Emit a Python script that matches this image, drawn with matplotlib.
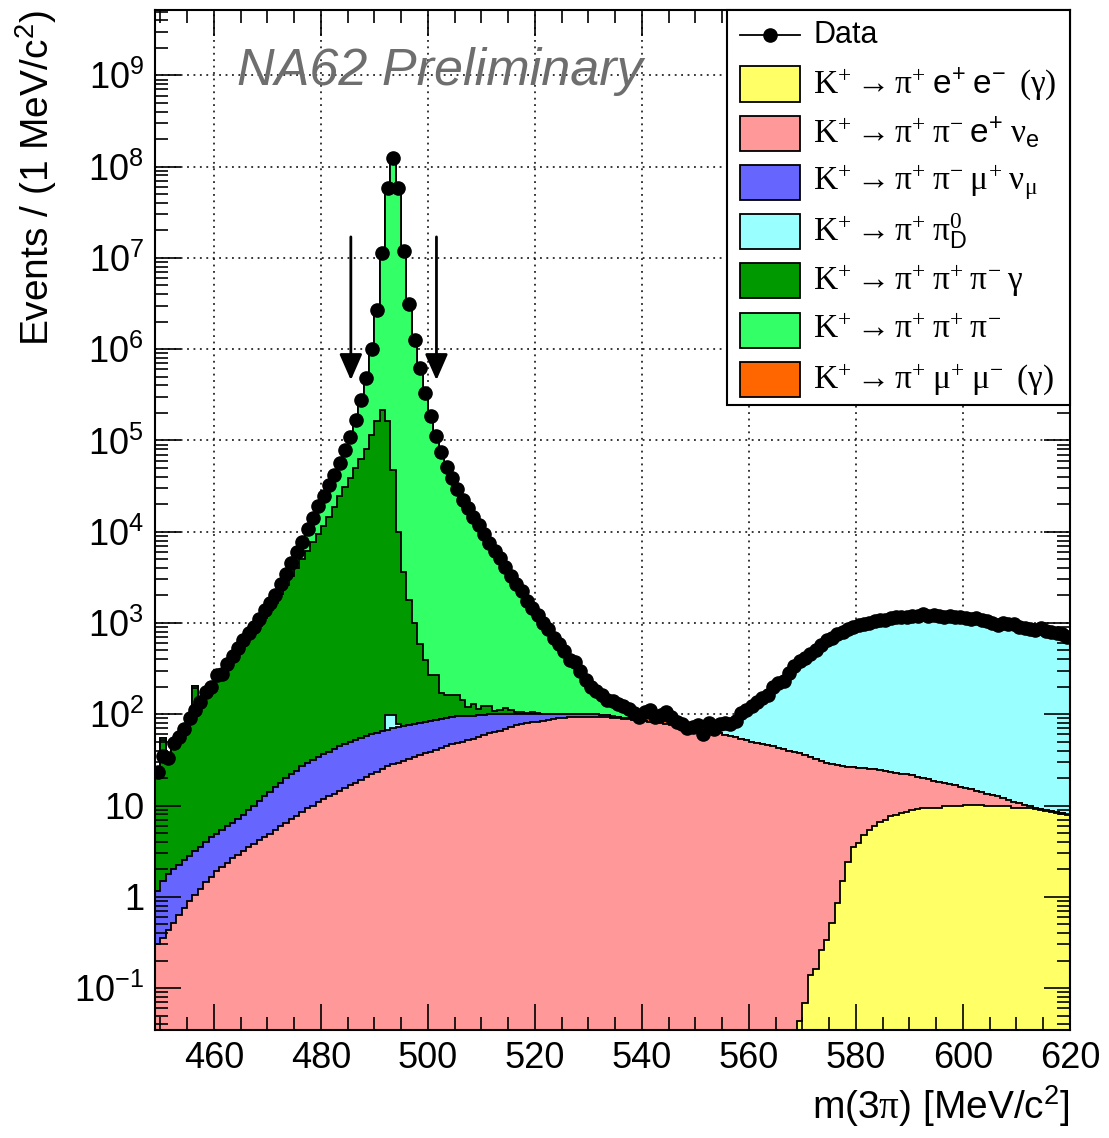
import numpy as np
import matplotlib
matplotlib.use('Agg')
import matplotlib.pyplot as plt
from matplotlib.ticker import FixedLocator, MultipleLocator, LogLocator, FuncFormatter, NullFormatter
from matplotlib.patches import Rectangle
from matplotlib.lines import Line2D

plt.rcParams['font.family'] = 'Liberation Sans'
plt.rcParams['mathtext.fontset'] = 'custom'
plt.rcParams['mathtext.rm'] = 'Liberation Serif'
plt.rcParams['mathtext.it'] = 'Liberation Serif:italic'
plt.rcParams['mathtext.bf'] = 'Liberation Serif:bold'
plt.rcParams['mathtext.sf'] = 'Liberation Sans'

# 1 MeV bins from 449 to 620 MeV/c^2
edges = np.arange(449, 621)

# events per bin (bins 449 ... 619)
data = [
    23, 35, 33, 48, 56, 69, 91, 110, 135, 174,
    200, 269, 275, 355, 437, 537, 646, 776, 912, 1096,
    1380, 1660, 2042, 2692, 3467, 4571, 6026, 7762, 10715, 14125,
    19055, 24547, 32359, 41687, 56234, 77625, 109648, 165959, 275423, 478630,
    1.0e6, 2.69e6, 1.12e7, 5.89e7, 1.23e8, 5.89e7, 1.20e7, 3.09e6, 1.26e6, 6.17e5,
    3.31e5, 1.86e5, 1.12e5, 74131, 51286, 38905, 29512, 22387, 18197, 14454,
    11749, 9550, 7586, 6166, 5129, 4074, 3311, 2692, 2239, 1738,
    1445, 1230, 1000, 851, 676, 589, 490, 389, 372, 295,
    240, 200, 178, 162, 145, 138, 129, 123, 115, 102,
    93, 105, 112, 93, 98, 107, 93, 83, 78, 71,
    72, 76, 60, 81, 69, 79, 81, 78, 85, 102,
    112, 123, 135, 151, 162, 200, 219, 234, 282, 339,
    380, 417, 457, 501, 575, 646, 692, 759, 794, 851,
    912, 955, 977, 1000, 1047, 1072, 1072, 1122, 1148, 1148,
    1175, 1202, 1202, 1259, 1202, 1230, 1202, 1175, 1202, 1175,
    1148, 1122, 1096, 1122, 1072, 1047, 1000, 955, 1000, 977,
    977, 912, 891, 851, 832, 871, 813, 794, 776, 759,
    708,
]

pieeg = [0] * 120 + [
    0.043, 0.069, 0.14, 0.16, 0.26, 0.34, 0.51, 0.85, 1.5, 2.4,
    3.5, 3.9, 4.8, 5.4, 5.9, 6.6, 6.9, 7.6, 7.9, 8.3,
    8.5, 8.9, 9.1, 9.3, 9.3, 9.3, 9.5, 9.8, 9.8, 10.0,
    10.0, 10.2, 10.2, 10.2, 10.2, 10.0, 10.0, 9.8, 9.8, 9.8,
    9.5, 9.5, 9.3, 9.3, 9.1, 8.9, 8.7, 8.5, 8.3, 8.1,
    7.8,
]

pipienu = [
    0.30, 0.35, 0.43, 0.52, 0.63, 0.76, 0.89, 1.05, 1.23, 1.45,
    1.66, 1.91, 2.14, 2.34, 2.63, 2.88, 3.16, 3.47, 3.80, 4.17,
    4.57, 4.90, 5.37, 5.89, 6.46, 7.08, 7.76, 8.51, 9.33, 10.0,
    11.0, 11.7, 12.6, 13.5, 14.5, 15.5, 16.6, 17.8, 19.1, 20.4,
    21.9, 23.4, 25.1, 26.9, 28.2, 29.5, 30.9, 32.4, 33.9, 35.5,
    37.2, 38.9, 40.7, 42.7, 44.7, 46.8, 49.0, 50.1, 52.5, 53.7,
    56.2, 58.9, 61.7, 63.1, 66.1, 69.2, 72.4, 75.9, 77.6, 79.4,
    81.3, 83.2, 85.1, 87.1, 89.1, 91.2, 91.2, 93.3, 93.3, 93.3,
    93.3, 93.3, 93.3, 93.3, 93.3, 91.2, 91.2, 89.1, 89.1, 87.1,
    85.1, 85.1, 83.2, 81.3, 79.4, 77.6, 75.9, 74.1, 72.4, 70.8,
    70.8, 69.2, 67.6, 66.1, 63.1, 61.7, 58.9, 57.5, 56.2, 53.7,
    52.5, 50.1, 49.0, 46.8, 45.7, 44.7, 42.7, 41.7, 39.8, 38.9,
    37.2, 35.4, 33.8, 32.2, 30.6, 29.2, 28.3, 26.7, 25.4, 23.9,
    22.8, 21.8, 20.9, 19.7, 19.2, 17.9, 17.1, 15.8, 15.0, 14.1,
    13.4, 12.5, 11.3, 10.7, 10.2, 9.3, 8.7, 8.0, 7.2, 6.6,
    5.8, 5.3, 4.9, 4.3, 3.9, 3.5, 3.2, 2.8, 2.2, 1.7,
    1.5, 1.2, 0.9, 0.5, 0.4, 0.2, 0.2, 0.2, 0.1, 0.1,
    0.1,
]

pipimunu = [
    0.87, 1.13, 1.35, 1.48, 1.61, 1.75, 1.93, 2.11, 2.32, 2.53,
    2.81, 2.99, 3.23, 3.55, 3.83, 4.20, 4.78, 5.44, 6.2, 7.0,
    8.0, 9.2, 10.4, 11.9, 13.5, 14.8, 16.2, 18.4, 20.2, 21.6,
    22.9, 24.6, 26.3, 28.2, 30.0, 31.8, 33.5, 35.0, 36.5, 37.8,
    38.8, 39.6, 40.3, 41.0, 41.6, 42.3, 43.0, 43.6, 44.3, 45.0,
    45.6, 46.0, 46.3, 46.4, 46.4, 46.2, 45.6, 44.8, 43.8, 42.7,
    41.4, 40.0, 38.2, 36.4, 33.9, 30.8, 27.6, 24.1, 22.4, 20.6,
    18.7, 16.8, 14.9, 12.9, 10.9, 9.5, 8.8, 7.5, 7.0, 6.8,
    6.7, 6.5, 6.2, 5.5, 4.4, 3.2, 2.0, 1.0, 0.5, 0.2,
] + [0] * 81

pipi0d = [0] * 43 + [30, 29, 7] + [0] * 50 + [
    0.5, 1, 1.5, 2, 3, 4, 5, 7, 9, 12,
    15, 22, 31, 42, 56, 73, 86, 101, 120, 146,
    176, 209, 248, 292, 343, 391, 434, 481, 544, 601,
    663, 713, 767, 822, 862, 903, 947, 970, 1016, 1041,
    1065, 1091, 1118, 1118, 1145, 1145, 1172, 1173, 1173, 1174,
    1175, 1176, 1150, 1150, 1150, 1123, 1097, 1072, 1048, 1024,
    1000, 978, 955, 933, 912, 891, 871, 851, 832, 813,
    794, 775, 758, 741, 706,
]

pipipig = [
    19, 51, 30, 40, 48, 59, 77, 192, 116, 151,
    178, 235, 246, 310, 383, 461, 554, 667, 784, 922,
    1135, 1366, 1644, 2071, 2610, 3214, 3957, 4985, 6136, 7730,
    9516, 11446, 14415, 18579, 24503, 30855, 38854, 50065, 63040, 81224,
    114755, 162118, 213731, 162083, 47765, 9921, 3557, 1702, 921, 508,
    315, 184, 182, 81, 71, 69, 69, 49, 25, 34,
    17, 23, 23, 10, 10, 17, 12, 5, 7, 2,
    5, 2, 1, 1, 1, 1, 1, 1, 1, 1,
    1, 1, 0.5, 0.5, 0.5, 0.5, 0.5, 0.3, 0.3, 0.3,
] + [0] * 81

pipipi = [
    2, 2, 1.5, 6, 6, 7.5, 12, 8, 15, 19,
    18, 29, 24, 39, 48, 69, 84, 100, 118, 163,
    232, 280, 382, 603, 837, 1335, 2045, 2750, 4549, 6363,
    9505, 13065, 17905, 23066, 31687, 46722, 70743, 115840, 212327, 397347,
    8.85e5, 2.53e6, 1.10e7, 5.87e7, 1.23e8, 5.89e7, 1.20e7, 3.09e6, 1.26e6, 6.17e5,
    3.31e5, 1.86e5, 1.12e5, 7.40e4, 5.11e4, 3.87e4, 2.94e4, 2.22e4, 1.81e4, 1.43e4,
    11630, 9427, 7463, 6056, 5019, 3957, 3199, 2587, 2132, 1636,
    1340, 1128, 898, 750, 575, 488, 389, 288, 238, 194,
    139, 98, 72, 53, 41, 33, 26, 18, 10, 4,
    1,
] + [0] * 80

pimumu = [0] * 79 + [
    1, 2, 3, 4, 5, 5, 6, 6, 7, 7,
    7, 7, 7, 7, 7, 6, 6, 6, 5, 5,
    4, 4, 3, 3, 2, 2, 1, 1, 1,
] + [0] * 63

labels = [
    r'$\mathrm{K^{+}\rightarrow\pi^{+}\;}\mathsf{e^{+}\;e^{-}}\;\;\mathrm{(\gamma)}$',
    r'$\mathrm{K^{+}\rightarrow\pi^{+}\;\pi^{-}\;}\mathsf{e^{+}}\;\mathrm{\nu_{\mathsf{e}}}$',
    r'$\mathrm{K^{+}\rightarrow\pi^{+}\;\pi^{-}\;\mu^{+}\;\nu_{\mu}}$',
    r'$\mathrm{K^{+}\rightarrow\pi^{+}\;\pi^{0}_{\mathsf{D}}}$',
    r'$\mathrm{K^{+}\rightarrow\pi^{+}\;\pi^{+}\;\pi^{-}\;\gamma}$',
    r'$\mathrm{K^{+}\rightarrow\pi^{+}\;\pi^{+}\;\pi^{-}}$',
    r'$\mathrm{K^{+}\rightarrow\pi^{+}\;\mu^{+}\;\mu^{-}\;\;(\gamma)}$',
]
colors = ['#ffff66', '#ff9999', '#6666ff', '#99ffff', '#009900', '#33ff66', '#ff6600']
components = [pieeg, pipienu, pipimunu, pipi0d, pipipig, pipipi, pimumu]

# signal window arrows
arrow_x = [485.6, 501.6]

W, H = 1109, 1138
fig = plt.figure(figsize=(W / 100, H / 100), dpi=100)
ax = fig.add_axes([155 / W, 1 - 1030 / H, 915 / W, 1020 / H])
ax.set_yscale('log')
ax.set_xlim(449, 620)
ax.set_ylim(0.0347, 5.2e9)

# dotted grid under the histograms
for xv in range(460, 620, 20):
    ax.axvline(xv, color='black', ls=(0, (1.2, 3)), lw=1.1, zorder=0.5)
for e in range(-1, 10):
    ax.axhline(10.0 ** e, color='black', ls=(0, (1.2, 3)), lw=1.1, zorder=0.5)

# THStack style: draw cumulative sums from the top one down
floor = 1e-3
cum = np.cumsum(np.array(components, dtype=float), axis=0)
for k in reversed(range(len(components))):
    ax.stairs(np.clip(cum[k], floor, None), edges, baseline=floor, fill=True,
              facecolor=colors[k], edgecolor='black', linewidth=1.3, zorder=1 + 0.01 * (7 - k))

centers = edges[:-1] + 0.5
ax.plot(centers, data, 'o', color='black', ms=9.5, zorder=4)

for xa in arrow_x:
    ax.annotate('', xy=(xa, 10 ** 5.66), xytext=(xa, 10 ** 7.23),
                arrowprops=dict(arrowstyle='-|>,head_length=0.8,head_width=0.35',
                                mutation_scale=20, color='black', lw=2,
                                shrinkA=0, shrinkB=0), zorder=5)

ax.text(0.0896, 0.9265, 'NA62 Preliminary', transform=ax.transAxes, style='italic',
        color='#6e6e6e', fontsize=37.5, va='baseline', zorder=6)


def ylabel_fmt(v, pos):
    e = int(round(np.log10(v)))
    if e == 0:
        return '1'
    if e == 1:
        return '10'
    return r'$\mathsf{10^{%d}}$' % e


ax.xaxis.set_major_locator(FixedLocator(list(range(460, 621, 20))))
ax.xaxis.set_minor_locator(MultipleLocator(5))
ax.yaxis.set_major_locator(FixedLocator([10.0 ** e for e in range(-1, 10)]))
ax.yaxis.set_minor_locator(LogLocator(base=10, subs=np.arange(2, 10), numticks=30))
ax.yaxis.set_major_formatter(FuncFormatter(ylabel_fmt))
ax.yaxis.set_minor_formatter(NullFormatter())
ax.tick_params(which='both', direction='in', top=True, right=True, width=1.2, zorder=7)
ax.tick_params(which='major', length=19, labelsize=26, pad=8)
ax.tick_params(which='minor', length=9.5)
for sp in ax.spines.values():
    sp.set_linewidth(1.5)
    sp.set_zorder(8)

ax.set_xlabel(r'm(3$\mathrm{\pi}$) [MeV/$\mathsf{c^{2}}$]', fontsize=28, loc='right')
ax.xaxis.set_label_coords(1.0, -0.052)
ax.set_ylabel(r'Events / (1 MeV/$\mathsf{c^{2}}$)', fontsize=28, loc='top')
ax.yaxis.set_label_coords(-0.105, 1.0)


# legend box drawn in figure pixels
def fxy(px, py):
    return px / W, 1 - py / H


fig.add_artist(Rectangle(fxy(727, 405), (1070 - 727) / W, (405 - 10) / H, transform=fig.transFigure,
                         facecolor='white', edgecolor='black', lw=1.5, zorder=10))
x0, y0 = fxy(740, 35)
x1, _ = fxy(800, 35)
fig.add_artist(Line2D([x0, x1], [y0, y0], transform=fig.transFigure, color='black', lw=1.3, zorder=11))
xm, _ = fxy(770, 35)
fig.add_artist(Line2D([xm], [y0], transform=fig.transFigure, marker='o', color='black', ms=9.5, zorder=11))
fig.text(*fxy(813, 35), 'Data', fontsize=22, va='center', zorder=11)
for k, (lab, c) in enumerate(zip(labels, colors)):
    yc = 84 + 49.2 * k
    fig.add_artist(Rectangle(fxy(740, yc + 17.5), 60 / W, 35 / H, transform=fig.transFigure,
                             facecolor=c, edgecolor='black', lw=1.3, zorder=11))
    fig.text(*fxy(813, yc), lab, fontsize=24, va='center', zorder=11)

fig.savefig('out.png', dpi=100)
